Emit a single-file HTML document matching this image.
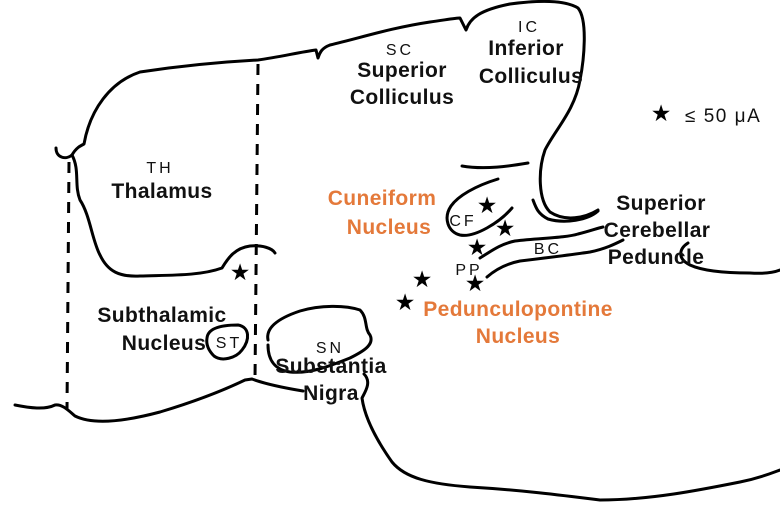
<!DOCTYPE html>
<html><head><style>
html,body{margin:0;padding:0;background:#fff;}
svg{display:block}
text{font-family:"Liberation Sans",Arial,sans-serif;}
.b{font-weight:bold;font-size:21px;fill:#111;letter-spacing:0.4px;}
.o{font-weight:bold;font-size:21px;fill:#e4793a;letter-spacing:0.4px;}
.s{font-size:16px;fill:#111;letter-spacing:3px;}
</style></head><body>
<svg width="780" height="512" viewBox="0 0 780 512" xmlns="http://www.w3.org/2000/svg">
<g fill="none" stroke="#000" stroke-width="3" stroke-linecap="round" stroke-linejoin="round">
<path d="M56,148 C56,158 66,160 72,155 C76,148 80,146 84,144 C90,110 110,82 140,72 C180,66 220,62 258,60 C280,57 300,52 316,50 L318,58 C320,52 322,48 330,45 C360,38 390,28 430,22 C445,20 455,18 460,18 L466,30 C470,18 480,10 510,4 C540,0 565,0 578,8 C588,20 584,60 580,80 C575,110 555,130 545,150 C538,170 538,200 550,212 C565,222 585,218 598,210"/>
<path d="M72,155 C80,170 74,185 80,200 C90,215 92,240 100,255 C108,272 120,277 140,276 C170,275 200,276 222,268 C228,258 235,248 250,246 C262,245 272,248 275,253"/>
<path d="M15,405 C30,408 45,410 55,405 C62,404 68,410 75,416 C95,426 130,420 160,412 C190,403 220,392 245,380 L252,379 C265,384 285,388 303,391"/>
<path d="M268,340 C265,325 285,316 300,311 C320,305 345,305 360,310 C368,318 364,328 370,335 C375,345 362,352 350,358 C330,366 310,374 290,372 C275,370 268,360 268,345"/>
<path d="M364,374 C372,382 365,392 362,398 C365,420 380,445 392,462 C405,478 430,484 470,487 C520,490 560,495 600,500 C650,500 700,490 740,482 C760,478 772,473 780,470"/>
<path d="M688,243 C680,248 676,258 690,265 C705,272 730,273 750,273 C765,274 775,272 780,270"/>
<path d="M207,338 C208,328 222,325 238,325 C250,327 250,340 242,350 C236,358 222,362 214,356 C208,350 206,344 207,338"/>
<path d="M462,166 C485,170 510,166 528,163"/>
<path d="M498,179 C475,186 458,196 451,206 C443,218 448,232 460,235 C475,238 500,222 512,208"/>
<path d="M533,200 C536,208 538,214 548,219 C565,224 588,220 598,211"/>
<path d="M480,258 C490,252 500,244 515,241 C540,238 565,238 578,234 C590,231 598,228 603,227"/>
<path d="M487,277 C495,270 505,264 520,261 C545,258 570,255 590,252 C605,249 615,244 623,240"/>
</g>
<g stroke="#000" stroke-width="3" stroke-dasharray="11,9">
<line x1="69" y1="162" x2="67" y2="410"/>
<line x1="258" y1="64" x2="255" y2="380"/>
</g>
<g fill="#000" font-size="23" font-family="DejaVu Sans,sans-serif" text-anchor="middle">
<text x="240" y="280">★</text>
<text x="487" y="213">★</text>
<text x="505" y="236">★</text>
<text x="477" y="255">★</text>
<text x="475" y="291">★</text>
<text x="422" y="287">★</text>
<text x="405" y="310">★</text>
<text x="661" y="121">★</text>
</g>
<text x="685" y="122" font-size="19" fill="#111" letter-spacing="1.5" font-family="DejaVu Sans,sans-serif">≤ 50 μA</text>
<g text-anchor="middle">
<text class="s" x="400" y="55">SC</text>
<text class="b" x="402" y="77">Superior</text>
<text class="b" x="402" y="104">Colliculus</text>
<text class="s" x="529" y="32">IC</text>
<text class="b" x="526" y="55">Inferior</text>
<text class="b" x="531" y="83">Colliculus</text>
<text class="s" x="160" y="173">TH</text>
<text class="b" x="162" y="198">Thalamus</text>
<text class="o" x="382" y="205">Cuneiform</text>
<text class="o" x="389" y="234">Nucleus</text>
<text class="s" x="463" y="226">CF</text>
<text class="b" x="661" y="210">Superior</text>
<text class="b" x="657" y="237">Cerebellar</text>
<text class="b" x="656" y="264">Peduncle</text>
<text class="s" x="548" y="254">BC</text>
<text class="s" x="469" y="275">PP</text>
<text class="o" x="518" y="316">Pedunculopontine</text>
<text class="o" x="518" y="343">Nucleus</text>
<text class="b" x="162" y="322">Subthalamic</text>
<text class="b" x="164" y="350">Nucleus</text>
<text class="s" x="229" y="348">ST</text>
<text class="s" x="330" y="353">SN</text>
<text class="b" x="331" y="373">Substantia</text>
<text class="b" x="331" y="400">Nigra</text>
</g>
</svg>
</body></html>
